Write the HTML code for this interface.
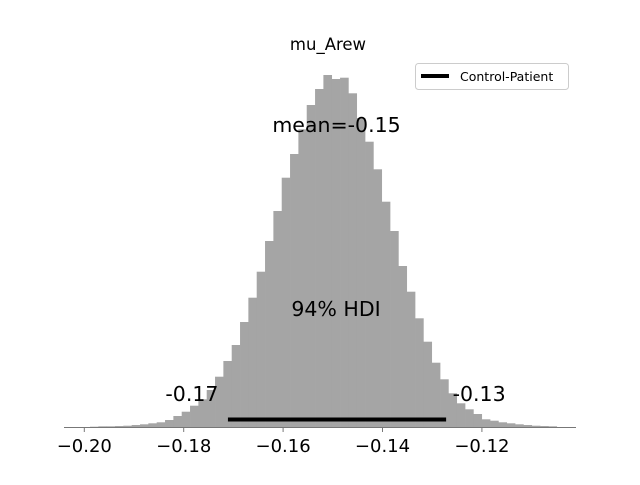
<!DOCTYPE html>
<html><head><meta charset="utf-8"><style>
body{margin:0;background:#fff;}
svg text{font-family:"DejaVu Sans","Liberation Sans",sans-serif;fill:#000;}
</style></head><body>
<svg width="640" height="480" viewBox="0 0 640 480">
<g id="bars"></g>
<g id="axis"></g>
<text x="328" y="50" font-size="16.5" text-anchor="middle">mu_Arew</text>
<text x="336.5" y="132" font-size="20.5" text-anchor="middle">mean=-0.15</text>
<text x="336" y="316" font-size="20.5" text-anchor="middle">94% HDI</text>
<g id="hdi"></g>
<g>
<rect x="415.5" y="63.5" width="153" height="26" rx="3" fill="#fff" stroke="#ccc"/>
<line x1="421" y1="76" x2="449" y2="76" stroke="#000" stroke-width="4"/>
<text x="460" y="81" font-size="12.5">Control-Patient</text>
</g>
</svg>
<script>
const binStart = -0.19885;
const binWidth = 0.001677;
const counts = [0.3,0.7,0.7,1,1.3,2,2.7,3.7,4.7,7,11,15.3,21.3,27.7,37,50.3,66,82,105,129.3,155.3,186,216,249.3,273,297.7,322,338,352,348,349.3,333.7,309,285.3,257.7,225.3,196,161,135.3,108.7,85.3,64.3,47.7,33.7,23.7,17.7,13,7.7,6.3,4.7,3.7,2.7,2,1.3,1,0.7];
const tickValues = [-0.20,-0.18,-0.16,-0.14,-0.12];
const tickLabels = ["\u22120.20","\u22120.18","\u22120.16","\u22120.14","\u22120.12"];
const hdiLow = -0.1711, hdiHigh = -0.1272;
const hdiLowLabel = "-0.17", hdiHighLabel = "-0.13";
const NS='http://www.w3.org/2000/svg';
const X = v => 84.3 + (v + 0.20) * 4970;
const Y = c => 427 - c * 1.0;
const bars = document.getElementById('bars');
counts.forEach((c,i)=>{
  const x0 = X(binStart + i*binWidth), x1 = X(binStart + (i+1)*binWidth);
  const r = document.createElementNS(NS,'rect');
  r.setAttribute('x', x0); r.setAttribute('width', x1-x0+0.3);
  r.setAttribute('y', Y(c)); r.setAttribute('height', 427-Y(c));
  r.setAttribute('fill','#a5a5a5');
  
  
  bars.appendChild(r);
});
const ax = document.getElementById('axis');
const base = document.createElementNS(NS,'line');
base.setAttribute('x1',64); base.setAttribute('x2',576); base.setAttribute('y1',427.5); base.setAttribute('y2',427.5);
base.setAttribute('stroke','#777'); base.setAttribute('stroke-width','1');


ax.appendChild(base);
tickValues.forEach((v,i)=>{
  const t = document.createElementNS(NS,'line');
  t.setAttribute('x1',X(v)); t.setAttribute('x2',X(v)); t.setAttribute('y1',427); t.setAttribute('y2',432);
  t.setAttribute('stroke','#777');
  
  
  ax.appendChild(t);
  const l = document.createElementNS(NS,'text');
  l.setAttribute('x',X(v)); l.setAttribute('y',452); l.setAttribute('font-size','18'); l.setAttribute('text-anchor','middle');
  l.textContent = tickLabels[i];
  
  
  ax.appendChild(l);
});
const hg = document.getElementById('hdi');
const hl = document.createElementNS(NS,'line');
hl.setAttribute('x1',X(hdiLow)); hl.setAttribute('x2',X(hdiHigh)); hl.setAttribute('y1',419.5); hl.setAttribute('y2',419.5);
hl.setAttribute('stroke','#000'); hl.setAttribute('stroke-width','4');


hg.appendChild(hl);
[[hdiLow,hdiLowLabel,-36],[hdiHigh,hdiHighLabel,33]].forEach(([v,s,dx])=>{
  const t = document.createElementNS(NS,'text');
  t.setAttribute('x',X(v)+dx); t.setAttribute('y',401); t.setAttribute('font-size','20.5'); t.setAttribute('text-anchor','middle');
  t.textContent = s;
  
  
  hg.appendChild(t);
});
</script>
</body></html>
